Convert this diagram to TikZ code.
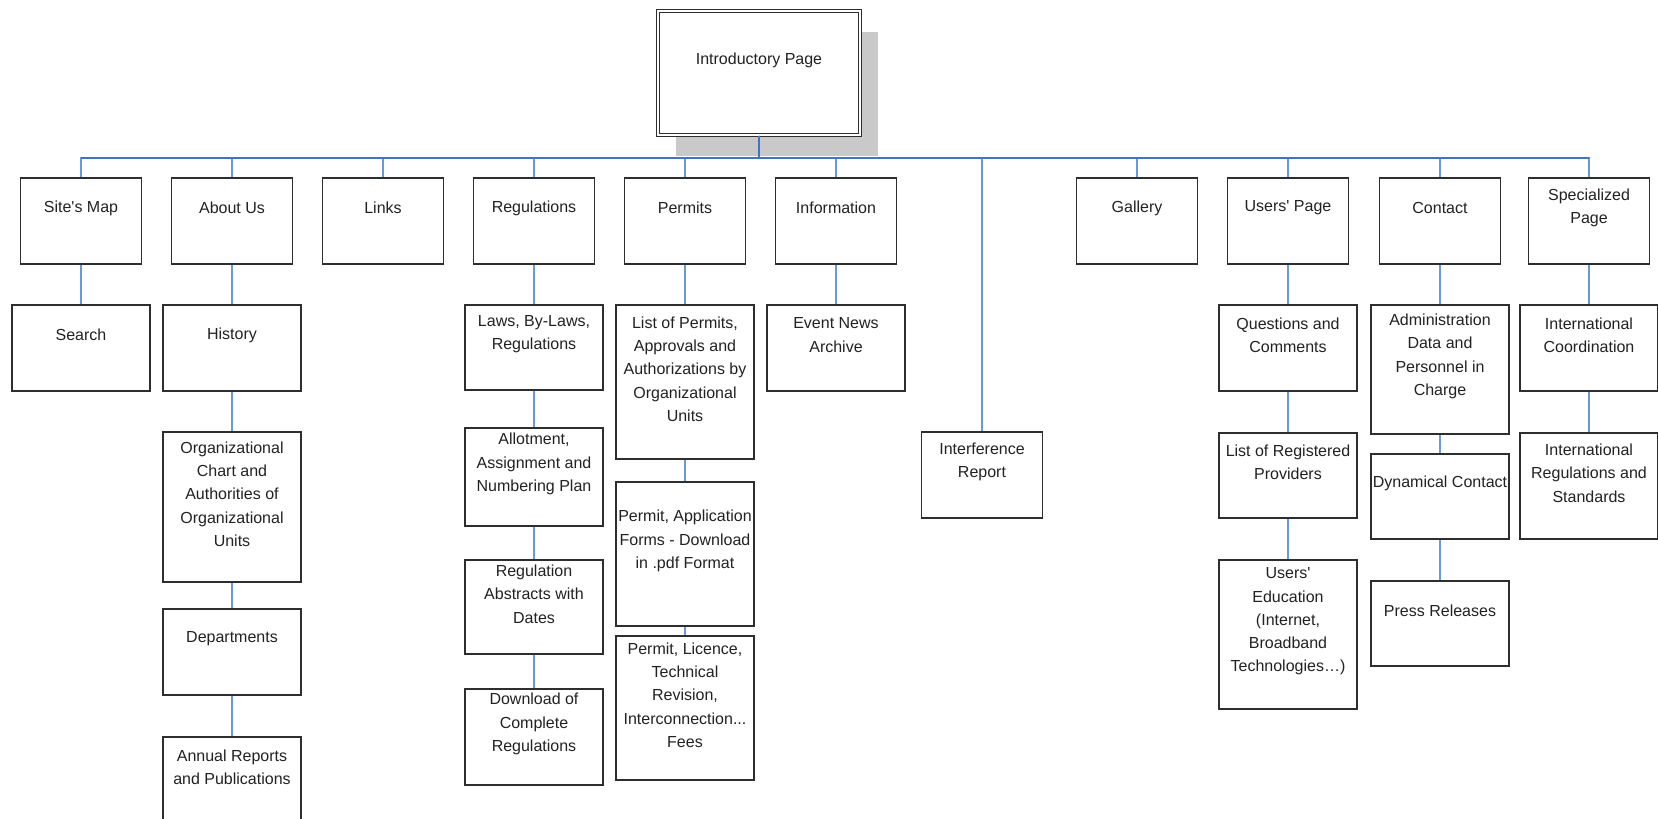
\documentclass[tikz,border=0pt]{standalone}
\usepackage{fontspec}
\setmainfont{Liberation Sans}
\usetikzlibrary{shadows}

\definecolor{boxgray}{HTML}{2E2E2E}
\definecolor{textgray}{HTML}{222222}
\definecolor{linkblue}{HTML}{6A98DA}
\definecolor{busblue}{HTML}{4273C4}
\definecolor{shadowgray}{HTML}{C9C9C9}

\tikzset{
  pagebox/.style={draw=boxgray, line width=1.6pt, fill=white, inner sep=0pt,
    minimum width=138pt},
  topbox/.style={pagebox, minimum width=121pt, minimum height=86pt},
  boxtext/.style={font=\fontsize{16}{23.3}\selectfont, align=center,
    text=textgray, yshift=13pt},
  link/.style={draw=linkblue, line width=1.8pt},
  bus/.style={draw=busblue, line width=2pt},
}

\begin{document}
\begin{tikzpicture}[x=1pt, y=-1pt]
  \useasboundingbox (0,0) rectangle (1658,819);
  \clip (0,0) rectangle (1658,819);

  % home page
  \node[draw=boxgray, double, line width=1.1pt, double distance=2pt, fill=white,
    minimum width=202pt, minimum height=124pt, inner sep=0pt,
    drop shadow={shadow xshift=18pt, shadow yshift=-21pt, fill=shadowgray, opacity=1},
    label={[boxtext]center:Introductory Page}] (intro) at (759,73) {};

  % first level
  \node[topbox, label={[boxtext]center:Site\textquotesingle s Map}] (sitemap) at (81,221) {};
  \node[topbox, label={[boxtext]center:About Us}] (about) at (232,221) {};
  \node[topbox, label={[boxtext]center:Links}] (links) at (383,221) {};
  \node[topbox, label={[boxtext]center:Regulations}] (regulations) at (534,221) {};
  \node[topbox, label={[boxtext]center:Permits}] (permits) at (685,221) {};
  \node[topbox, label={[boxtext]center:Information}] (information) at (836,221) {};
  \node[topbox, label={[boxtext]center:Gallery}] (gallery) at (1137,221) {};
  \node[topbox, label={[boxtext]center:Users\textquotesingle\ Page}] (users) at (1288,221) {};
  \node[topbox, label={[boxtext]center:Contact}] (contact) at (1440,221) {};
  \node[topbox, label={[boxtext]center:{Specialized\\Page}}] (specialized) at (1589,221) {};
  \node[topbox, label={[boxtext]center:{Interference\\Report}}] (interference) at (982,475) {};

  % site's map, about us
  \node[pagebox, minimum height=86pt, label={[boxtext]center:Search}] (search) at (81,348) {};
  \node[pagebox, minimum height=86pt, label={[boxtext]center:History}] (history) at (232,348) {};
  \node[pagebox, minimum height=150pt,
    label={[boxtext]center:{Organizational\\Chart and\\Authorities of\\Organizational\\Units}}] (orgchart) at (232,507) {};
  \node[pagebox, minimum height=86pt, label={[boxtext]center:Departments}] (departments) at (232,652) {};
  \node[pagebox, minimum height=86pt,
    label={[boxtext]center:{Annual Reports\\and Publications}}] (annual) at (232,780) {};

  % regulations
  \node[pagebox, minimum height=85pt,
    label={[boxtext]center:{Laws, By-Laws,\\Regulations}}] (laws) at (534,347.5) {};
  \node[pagebox, minimum height=98pt,
    label={[boxtext]center:{Allotment,\\Assignment and\\Numbering Plan}}] (allotment) at (534,477) {};
  \node[pagebox, minimum height=94pt,
    label={[boxtext]center:{Regulation\\Abstracts with\\Dates}}] (abstracts) at (534,607) {};
  \node[pagebox, minimum height=96pt,
    label={[boxtext]center:{Download of\\Complete\\Regulations}}] (download) at (534,737) {};

  % permits
  \node[pagebox, minimum height=154pt,
    label={[boxtext]center:{List of Permits,\\Approvals and\\Authorizations by\\Organizational\\Units}}] (permitlist) at (685,382) {};
  \node[pagebox, minimum height=144pt,
    label={[boxtext]center:{Permit, Application\\Forms - Download\\in .pdf Format}}] (permitforms) at (685,554) {};
  \node[pagebox, minimum height=144pt,
    label={[boxtext]center:{Permit, Licence,\\Technical\\Revision,\\Interconnection...\\Fees}}] (permitfees) at (685,708) {};

  % information
  \node[pagebox, minimum height=86pt,
    label={[boxtext]center:{Event News\\Archive}}] (events) at (836,348) {};

  % users' page
  \node[pagebox, minimum height=86pt,
    label={[boxtext]center:{Questions and\\Comments}}] (questions) at (1288,348) {};
  \node[pagebox, minimum height=85pt,
    label={[boxtext]center:{List of Registered\\Providers}}] (providers) at (1288,475.5) {};
  \node[pagebox, minimum height=149pt,
    label={[boxtext]center:{Users\textquotesingle\\Education\\(Internet,\\Broadband\\Technologies\dots)}}] (education) at (1288,634.5) {};

  % contact
  \node[pagebox, minimum height=129pt,
    label={[boxtext]center:{Administration\\Data and\\Personnel in\\Charge}}] (admin) at (1440,369.5) {};
  \node[pagebox, minimum height=85pt,
    label={[boxtext]center:Dynamical Contact}] (dynamic) at (1440,496.5) {};
  \node[pagebox, minimum height=85pt,
    label={[boxtext]center:Press Releases}] (press) at (1440,623.5) {};

  % specialized page
  \node[pagebox, minimum height=86pt,
    label={[boxtext]center:{International\\Coordination}}] (intcoord) at (1589,348) {};
  \node[pagebox, minimum height=106pt,
    label={[boxtext]center:{International\\Regulations and\\Standards}}] (intregs) at (1589,486) {};

  % connectors
  \foreach \n in {sitemap,about,links,regulations,permits,information,
                  interference,gallery,users,contact,specialized}
    \draw[link] (intro.south) -- ++(0,22) -| (\n.north);
  \draw[bus] (intro.south) -- ++(0,22) coordinate (hub);
  \draw[bus] (hub -| sitemap.north) -- (hub -| specialized.north);

  \foreach \a/\b in {sitemap/search, about/history, history/orgchart,
                     orgchart/departments, departments/annual,
                     regulations/laws, laws/allotment, allotment/abstracts,
                     abstracts/download, permits/permitlist,
                     permitlist/permitforms, permitforms/permitfees,
                     information/events, users/questions, questions/providers,
                     providers/education, contact/admin, admin/dynamic,
                     dynamic/press, specialized/intcoord, intcoord/intregs}
    \draw[link] (\a.south) -- (\b.north);
\end{tikzpicture}
\end{document}
